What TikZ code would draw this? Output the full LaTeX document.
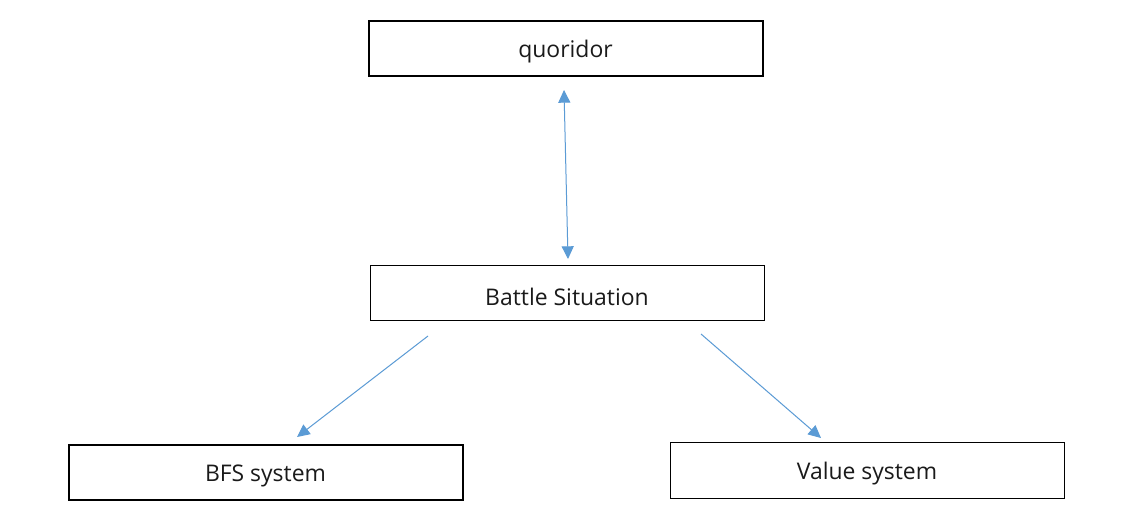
\documentclass[tikz,border=0pt]{standalone}
\usepackage{fontspec}
\setmainfont{Open Sans}
\usetikzlibrary{arrows.meta}
\definecolor{arrowblue}{HTML}{5B9BD5}
\definecolor{textgray}{HTML}{1A1A1A}
\newcommand{\lowered}[1]{\raisebox{-2.6pt}[\height][\depth]{#1}}
\begin{document}
\begin{tikzpicture}[x=0.75pt,y=-0.75pt,
  boxbase/.style={draw=black, fill=white, inner sep=0pt, outer sep=0pt, text=textgray,
    font=\fontsize{17.2}{20}\selectfont, minimum width=295.5pt, minimum height=41.5pt},
  thickbox/.style={boxbase, line width=1.5pt},
  thinbox/.style={boxbase, line width=0.75pt},
  conn/.style={draw=arrowblue, line width=0.75pt, -{Triangle[length=9.5pt,width=9pt]}},
  biconn/.style={draw=arrowblue, line width=0.75pt, {Triangle[length=9.5pt,width=9pt]}-{Triangle[length=9.5pt,width=9pt]}}]
\useasboundingbox[fill=white] (0,0) rectangle (1134,527);
\node[thickbox] (q) at (565.5,48.5) {\lowered{quoridor}};
\node[thinbox] (b) at (567,293) {\lowered{Battle Situation}};
\node[thickbox] (bfs) at (265.5,472.5) {\lowered{BFS system}};
\node[thinbox] (v) at (867,470.5) {\lowered{Value system}};
\coordinate (qa) at (564,90);
\coordinate (ba) at (568,259);
\coordinate (bl) at (428,336);
\coordinate (bfsa) at (297,437);
\coordinate (br) at (701,334);
\coordinate (va) at (821,438);
\draw[biconn] (qa) -- (ba);
\draw[conn] (bl) -- (bfsa);
\draw[conn] (br) -- (va);
\end{tikzpicture}
\end{document}
